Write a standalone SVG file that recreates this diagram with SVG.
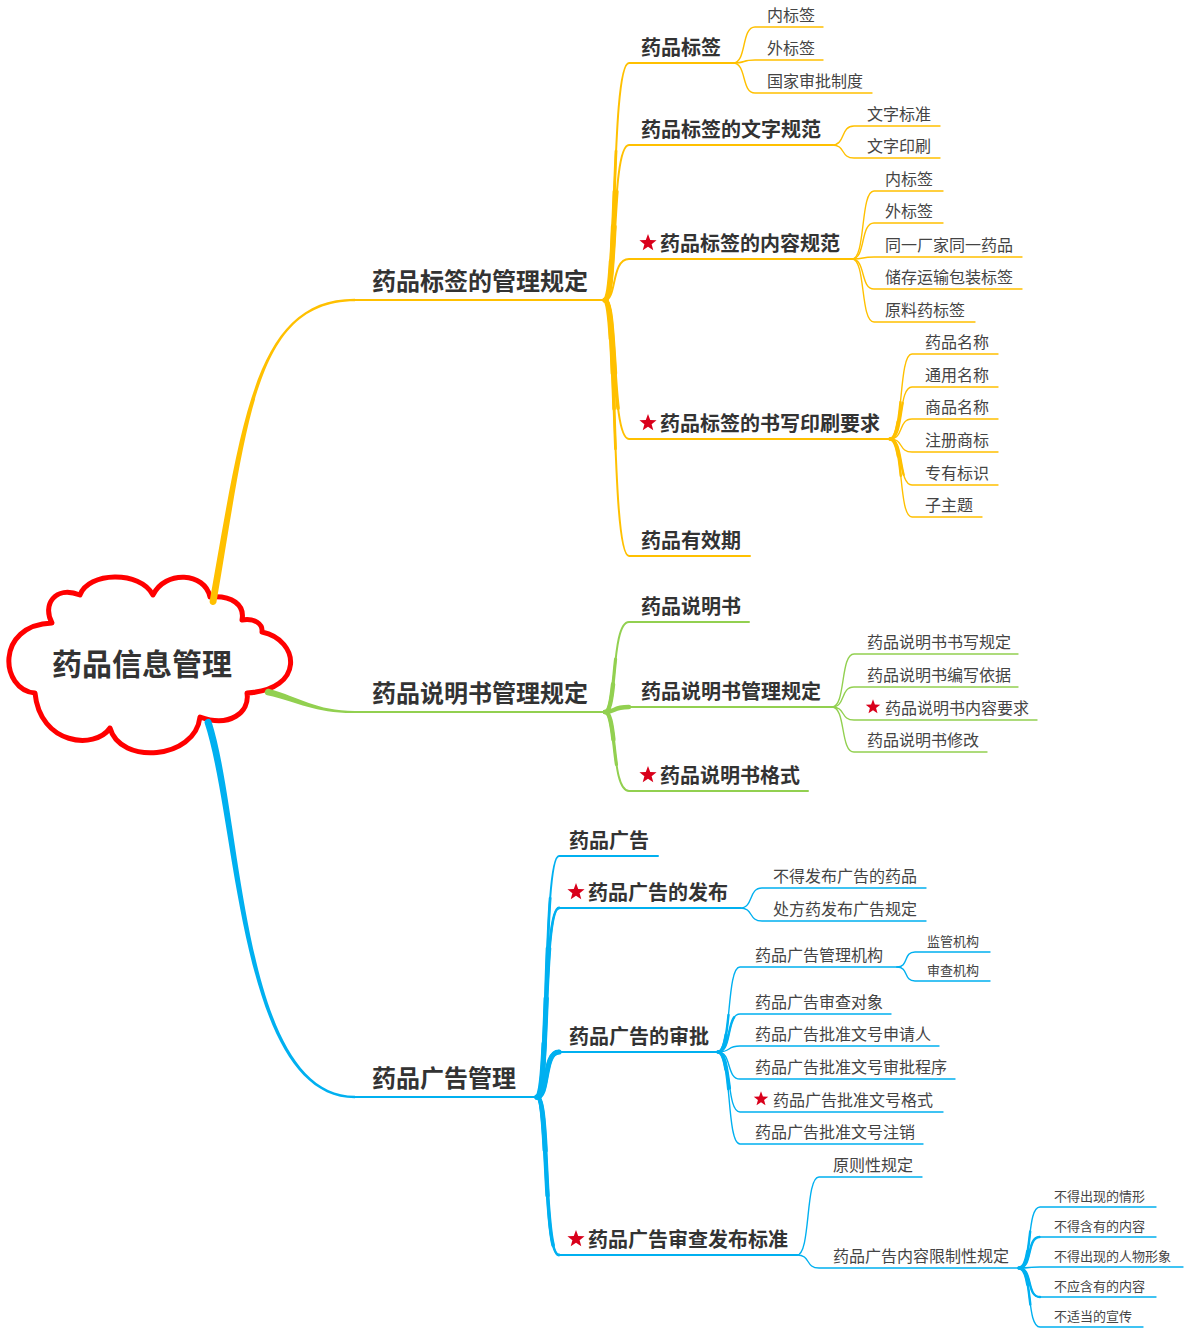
<svg xmlns="http://www.w3.org/2000/svg" xmlns:xlink="http://www.w3.org/1999/xlink" width="1185" height="1328" viewBox="0 0 1185 1328">
<style>
text{font-family:"Noto Sans CJK SC","Noto Sans",sans-serif;fill:#333}
.t0{font-size:30px;font-weight:bold;text-anchor:middle}
.t1{font-size:24px;font-weight:bold}
.t2{font-size:20px;font-weight:bold}
.t3{font-size:16px;fill:#444}
.t4{font-size:13px;fill:#444}
.c path,.c use{fill:none;stroke-linecap:round;stroke-linejoin:round}
.c path.f{stroke:none}
.y{stroke:#FFC000}.g{stroke:#92D050}.b{stroke:#00B0F0}
.c path.fy{fill:#FFC000}.c path.fg{fill:#92D050}.c path.fb{fill:#00B0F0}
.l{stroke-width:1.4}
.cloud{fill:#fff;stroke:#FF0000;stroke-width:5;stroke-linejoin:round}
.star{fill:#D9001B}
</style>
<defs>
<path id="star" d="M0,-9 L2.23,-3.07 L8.56,-2.78 L3.61,1.17 L5.29,7.28 L0,3.8 L-5.29,7.28 L-3.61,1.17 L-8.56,-2.78 L-2.23,-3.07 Z"/>
</defs>

<g id="root">
<path class="cloud" d="M52,623 C42,605 55,585 80,595 C88,572 140,570 153,595 C165,570 205,572 210,597 C232,595 245,605 242,620 C255,618 263,624 262,632 C300,640 305,690 247,693 C250,712 230,728 200,717 C195,760 120,765 110,728 C95,750 40,745 35,693 C0,690 -5,625 52,623 Z"/>
<text class="t0" x="142" y="675">药品信息管理</text>
</g>

<g id="connectors" class="c">
<!-- main branches: tapered ribbons + underlines -->
<path class="f fy" d="M209.6,601.4 C242.2,419.5 255,298.5 355,298.8 L355,301.2 C255,301.5 247.8,420.5 216.4,602.6 A3.5,3.5 0 0 1 209.6,601.4 Z"/>
<path class="y" stroke-width="2" d="M355,300 L605,300"/>
<path class="f fg" d="M268.8,688.8 C300.6,697.6 315,710.6 355,711 L355,713 C315,713.4 299.4,702.4 267.2,695.2 A3.3,3.3 0 0 1 268.8,688.8 Z"/>
<path class="g" stroke-width="2" d="M355,712 L605,712"/>
<path class="f fb" d="M211.4,720.9 C242.9,819.1 241.4,1095.6 355,1095.8 L355,1098.2 C238.6,1098.4 237.2,820.9 204.6,723.1 A3.6,3.6 0 0 1 211.4,720.9 Z"/>
<path class="b" stroke-width="2.2" d="M355,1097 L535,1097"/>

<!-- yellow level 2 -->
<g class="y" stroke-width="2">
<path d="M605,300 C617,300 611,63 629,63 L733,63"/>
<path d="M605,300 C617,300 611,145 629,145 L832,145"/>
<path d="M605,300 C617,300 611,259 629,259 L852,259"/>
<path d="M605,300 C617,300 611,439 629,439 L890,439"/>
<path d="M605,300 C617,300 611,556 629,556 L750,556"/>
</g>
<g class="y" stroke-width="2.8" stroke-dasharray="150 3000">
<path d="M605,300 C617,300 611,63 629,63"/>
<path d="M605,300 C617,300 611,556 629,556"/>
</g>
<g class="y" stroke-width="3.6" stroke-dasharray="110 3000">
<path d="M605,300 C617,300 611,63 629,63"/>
<path d="M605,300 C617,300 611,556 629,556"/>
<path d="M605,300 C617,300 611,145 629,145"/>
<path d="M605,300 C617,300 611,439 629,439"/>
</g>
<g class="y" stroke-width="4.4" stroke-dasharray="75 3000">
<path d="M605,300 C617,300 611,63 629,63"/>
<path d="M605,300 C617,300 611,556 629,556"/>
<path d="M605,300 C617,300 611,145 629,145"/>
<path d="M605,300 C617,300 611,439 629,439"/>
</g>
<g class="y" stroke-width="5.2" stroke-dasharray="40 3000">
<path d="M605,300 C617,300 611,63 629,63"/>
<path d="M605,300 C617,300 611,556 629,556"/>
</g>
<!-- yellow leaves -->
<g class="y l">
<path d="M733,63 C747,63 741,27 755,27 L823,27"/>
<path d="M733,63 C747,63 741,60 755,60 L823,60"/>
<path d="M733,63 C747,63 741,93 755,93 L872,93"/>
<path d="M832,145 C846,145 840,126 854,126 L940,126"/>
<path d="M832,145 C846,145 840,158 854,158 L940,158"/>
<path d="M852,259 C866,259 860,191 874,191 L943,191"/>
<path d="M852,259 C866,259 860,223 874,223 L943,223"/>
<path d="M852,259 C866,259 860,257 874,257 L1022,257"/>
<path d="M852,259 C866,259 860,289 874,289 L1022,289"/>
<path d="M852,259 C866,259 860,322 874,322 L975,322"/>
<path d="M890,439 C904,439 898,354 912,354 L998,354"/>
<path d="M890,439 C904,439 898,387 912,387 L998,387"/>
<path d="M890,439 C904,439 898,419 912,419 L998,419"/>
<path d="M890,439 C904,439 898,452 912,452 L998,452"/>
<path d="M890,439 C904,439 898,485 912,485 L998,485"/>
<path d="M890,439 C904,439 898,517 912,517 L982,517"/>
</g>
<g class="y" stroke-width="2.4" stroke-dasharray="40 3000">
<path d="M890,439 C904,439 898,354 912,354"/>
<path d="M890,439 C904,439 898,517 912,517"/>
<path d="M890,439 C904,439 898,387 912,387"/>
<path d="M890,439 C904,439 898,485 912,485"/>
</g>
<g class="y" stroke-width="3.4" stroke-dasharray="20 3000">
<path d="M890,439 C904,439 898,354 912,354"/>
<path d="M890,439 C904,439 898,517 912,517"/>
</g>

<!-- green level 2 -->
<g class="g" stroke-width="2">
<path d="M605,712 C617,712 611,622 629,622 L749,622"/>
<path d="M605,712 C617,712 611,707 629,707 L832,707"/>
<path d="M605,712 C617,712 611,791 629,791 L808,791"/>
</g>
<g class="g" stroke-width="3.2" stroke-dasharray="55 3000">
<path d="M605,712 C617,712 611,622 629,622"/>
<path d="M605,712 C617,712 611,791 629,791"/>
</g>
<g class="g" stroke-width="4.4" stroke-dasharray="30 3000">
<path d="M605,712 C617,712 611,622 629,622"/>
<path d="M605,712 C617,712 611,791 629,791"/>
<path d="M605,712 C617,712 611,707 629,707"/>
</g>
<g class="g l">
<path d="M832,707 C846,707 840,654 854,654 L1018,654"/>
<path d="M832,707 C846,707 840,687 854,687 L1018,687"/>
<path d="M832,707 C846,707 840,720 854,720 L1037,720"/>
<path d="M832,707 C846,707 840,752 854,752 L987,752"/>
</g>

<!-- blue level 2 -->
<g class="b" stroke-width="2">
<path d="M537,1097 C549,1097 543,856 559,856 L658,856"/>
<path d="M537,1097 C549,1097 543,908 559,908 L740,908"/>
<path d="M537,1097 C549,1097 543,1052 559,1052 L718,1052"/>
<path d="M537,1097 C549,1097 543,1255 559,1255 L797,1255"/>
</g>
<g class="b" stroke-width="2.8" stroke-dasharray="200 3000">
<path d="M537,1097 C549,1097 543,856 559,856"/>
<path d="M537,1097 C549,1097 543,908 559,908"/>
<path d="M537,1097 C549,1097 543,1255 559,1255"/>
</g>
<g class="b" stroke-width="3.6" stroke-dasharray="150 3000">
<path d="M537,1097 C549,1097 543,856 559,856"/>
<path d="M537,1097 C549,1097 543,908 559,908"/>
<path d="M537,1097 C549,1097 543,1255 559,1255"/>
</g>
<g class="b" stroke-width="4.4" stroke-dasharray="100 3000">
<path d="M537,1097 C549,1097 543,856 559,856"/>
<path d="M537,1097 C549,1097 543,908 559,908"/>
<path d="M537,1097 C549,1097 543,1052 559,1052"/>
<path d="M537,1097 C549,1097 543,1255 559,1255"/>
</g>
<g class="b" stroke-width="5.2" stroke-dasharray="55 3000">
<path d="M537,1097 C549,1097 543,856 559,856"/>
<path d="M537,1097 C549,1097 543,1052 559,1052"/>
<path d="M537,1097 C549,1097 543,1255 559,1255"/>
</g>
<g class="b l">
<path d="M740,908 C754,908 748,888 762,888 L926,888"/>
<path d="M740,908 C754,908 748,921 762,921 L926,921"/>
<path d="M718,1052 C732,1052 726,967 740,967 L897,967"/>
<path d="M718,1052 C732,1052 726,1014 740,1014 L891,1014"/>
<path d="M718,1052 C732,1052 726,1046 740,1046 L939,1046"/>
<path d="M718,1052 C732,1052 726,1079 740,1079 L955,1079"/>
<path d="M718,1052 C732,1052 726,1112 740,1112 L943,1112"/>
<path d="M718,1052 C732,1052 726,1144 740,1144 L923,1144"/>
<path d="M897,967 C909,967 903,952 915,952 L990,952"/>
<path d="M897,967 C909,967 903,981 915,981 L990,981"/>
<path d="M797,1255 C811,1255 805,1177 819,1177 L922,1177"/>
<path d="M797,1255 C811,1255 805,1268 819,1268 L1019,1268"/>
<path d="M1019,1268 C1033,1268 1026,1207 1040,1207 L1156,1207"/>
<path d="M1019,1268 C1033,1268 1026,1237 1040,1237 L1156,1237"/>
<path d="M1019,1268 C1033,1268 1026,1267 1040,1267 L1183,1267"/>
<path d="M1019,1268 C1033,1268 1026,1297 1040,1297 L1156,1297"/>
<path d="M1019,1268 C1033,1268 1026,1327 1040,1327 L1143,1327"/>
</g>
<g class="b" stroke-width="2.4" stroke-dasharray="40 3000">
<path d="M718,1052 C732,1052 726,967 740,967"/>
<path d="M718,1052 C732,1052 726,1144 740,1144"/>
<path d="M718,1052 C732,1052 726,1014 740,1014"/>
<path d="M718,1052 C732,1052 726,1112 740,1112"/>
<path d="M1019,1268 C1033,1268 1026,1207 1040,1207"/>
<path d="M1019,1268 C1033,1268 1026,1327 1040,1327"/>
<path d="M1019,1268 C1033,1268 1026,1237 1040,1237"/>
<path d="M1019,1268 C1033,1268 1026,1297 1040,1297"/>
</g>
<g class="b" stroke-width="3.4" stroke-dasharray="20 3000">
<path d="M718,1052 C732,1052 726,967 740,967"/>
<path d="M718,1052 C732,1052 726,1144 740,1144"/>
<path d="M1019,1268 C1033,1268 1026,1207 1040,1207"/>
<path d="M1019,1268 C1033,1268 1026,1327 1040,1327"/>
</g>
</g>

<!-- yellow nodes -->
<g id="n-label-mgmt"><text class="t1" x="372" y="290">药品标签的管理规定</text></g>
<g id="n-label"><text class="t2" x="641" y="55">药品标签</text></g>
<g id="n-label-text"><text class="t2" x="641" y="137">药品标签的文字规范</text></g>
<g id="n-label-content"><use href="#star" class="star" x="648" y="243"/><text class="t2" x="660" y="251">药品标签的内容规范</text></g>
<g id="n-label-print"><use href="#star" class="star" x="648" y="423"/><text class="t2" x="660" y="431">药品标签的书写印刷要求</text></g>
<g id="n-expiry"><text class="t2" x="641" y="548">药品有效期</text></g>
<g id="n-y1"><text class="t3" x="767" y="21">内标签</text></g>
<g id="n-y2"><text class="t3" x="767" y="54">外标签</text></g>
<g id="n-y3"><text class="t3" x="767" y="87">国家审批制度</text></g>
<g id="n-y4"><text class="t3" x="867" y="120">文字标准</text></g>
<g id="n-y5"><text class="t3" x="867" y="152">文字印刷</text></g>
<g id="n-y6"><text class="t3" x="885" y="185">内标签</text></g>
<g id="n-y7"><text class="t3" x="885" y="217">外标签</text></g>
<g id="n-y8"><text class="t3" x="885" y="251">同一厂家同一药品</text></g>
<g id="n-y9"><text class="t3" x="885" y="283">储存运输包装标签</text></g>
<g id="n-y10"><text class="t3" x="885" y="316">原料药标签</text></g>
<g id="n-y11"><text class="t3" x="925" y="348">药品名称</text></g>
<g id="n-y12"><text class="t3" x="925" y="381">通用名称</text></g>
<g id="n-y13"><text class="t3" x="925" y="413">商品名称</text></g>
<g id="n-y14"><text class="t3" x="925" y="446">注册商标</text></g>
<g id="n-y15"><text class="t3" x="925" y="479">专有标识</text></g>
<g id="n-y16"><text class="t3" x="925" y="511">子主题</text></g>

<!-- green nodes -->
<g id="n-insert-mgmt"><text class="t1" x="372" y="702">药品说明书管理规定</text></g>
<g id="n-insert"><text class="t2" x="641" y="614">药品说明书</text></g>
<g id="n-insert-rule"><text class="t2" x="641" y="699">药品说明书管理规定</text></g>
<g id="n-insert-format"><use href="#star" class="star" x="648" y="775"/><text class="t2" x="660" y="783">药品说明书格式</text></g>
<g id="n-g1"><text class="t3" x="867" y="648">药品说明书书写规定</text></g>
<g id="n-g2"><text class="t3" x="867" y="681">药品说明书编写依据</text></g>
<g id="n-g3"><use href="#star" class="star" transform="translate(873,707) scale(0.85)"/><text class="t3" x="885" y="714">药品说明书内容要求</text></g>
<g id="n-g4"><text class="t3" x="867" y="746">药品说明书修改</text></g>

<!-- blue nodes -->
<g id="n-ad-mgmt"><text class="t1" x="372" y="1087">药品广告管理</text></g>
<g id="n-ad"><text class="t2" x="569" y="848">药品广告</text></g>
<g id="n-ad-publish"><use href="#star" class="star" x="576" y="892"/><text class="t2" x="588" y="900">药品广告的发布</text></g>
<g id="n-ad-approve"><text class="t2" x="569" y="1044">药品广告的审批</text></g>
<g id="n-ad-standard"><use href="#star" class="star" x="576" y="1239"/><text class="t2" x="588" y="1247">药品广告审查发布标准</text></g>
<g id="n-b1"><text class="t3" x="773" y="882">不得发布广告的药品</text></g>
<g id="n-b2"><text class="t3" x="773" y="915">处方药发布广告规定</text></g>
<g id="n-b3"><text class="t3" x="755" y="961">药品广告管理机构</text></g>
<g id="n-b4"><text class="t4" x="927" y="946">监管机构</text></g>
<g id="n-b5"><text class="t4" x="927" y="975">审查机构</text></g>
<g id="n-b6"><text class="t3" x="755" y="1008">药品广告审查对象</text></g>
<g id="n-b7"><text class="t3" x="755" y="1040">药品广告批准文号申请人</text></g>
<g id="n-b8"><text class="t3" x="755" y="1073">药品广告批准文号审批程序</text></g>
<g id="n-b9"><use href="#star" class="star" transform="translate(761,1099) scale(0.85)"/><text class="t3" x="773" y="1106">药品广告批准文号格式</text></g>
<g id="n-b10"><text class="t3" x="755" y="1138">药品广告批准文号注销</text></g>
<g id="n-b11"><text class="t3" x="833" y="1171">原则性规定</text></g>
<g id="n-b12"><text class="t3" x="833" y="1262">药品广告内容限制性规定</text></g>
<g id="n-b13"><text class="t4" x="1054" y="1201">不得出现的情形</text></g>
<g id="n-b14"><text class="t4" x="1054" y="1231">不得含有的内容</text></g>
<g id="n-b15"><text class="t4" x="1054" y="1261">不得出现的人物形象</text></g>
<g id="n-b16"><text class="t4" x="1054" y="1291">不应含有的内容</text></g>
<g id="n-b17"><text class="t4" x="1054" y="1321">不适当的宣传</text></g>
</svg>
